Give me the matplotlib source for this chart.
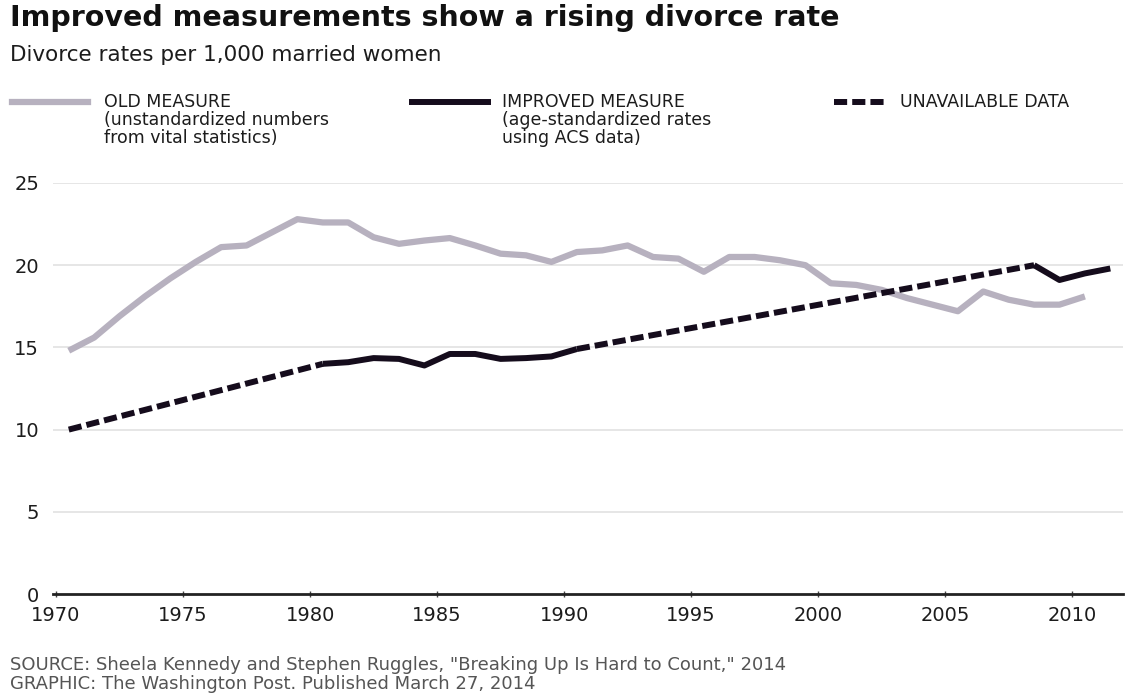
import matplotlib.pyplot as plt
from matplotlib.lines import Line2D
import numpy as np

# old measure (unstandardized, vital statistics), 1970-2010
old_years = np.arange(1970, 2011)
old_rate = [14.8, 15.6, 16.9, 18.1, 19.2, 20.2, 21.1, 21.2, 22.0, 22.8,
            22.6, 22.6, 21.7, 21.3, 21.5, 21.65, 21.2, 20.7, 20.6, 20.2,
            20.8, 20.9, 21.2, 20.5, 20.4, 19.6, 20.5, 20.5, 20.3, 20.0,
            18.9, 18.8, 18.5, 18.0, 17.6, 17.2, 18.4, 17.9, 17.6, 17.6,
            18.1]

# improved measure (age-standardized), two observed stretches
imp_years_a = np.arange(1980, 1991)
imp_rate_a = [14.0, 14.1, 14.35, 14.3, 13.9, 14.6, 14.6, 14.3, 14.35, 14.45, 14.9]
imp_years_b = np.arange(2008, 2012)
imp_rate_b = [20.0, 19.1, 19.5, 19.8]
imp_1970 = 10.0

tick_years = list(range(1970, 2011, 5))
y_ticks = [0, 5, 10, 15, 20, 25]

GRAY = '#b7b1bf'
DARK = '#150c1c'
TXT = '#1c1c1c'

W, H = 1129, 698
fig = plt.figure(figsize=(W / 100, H / 100), dpi=100)
ax = fig.add_axes([53 / W, 1 - 594 / H, (1123 - 53) / W, (594 - 183) / H])

def fx(px):
    return px / W

def fy(py):
    return 1 - py / H

# points sit in the middle of each year
off = 0.5
ax.plot(old_years + off, old_rate, color=GRAY, lw=4.5, solid_capstyle='butt', zorder=3)
dash = (0, (2.2, 0.85))
# dashed = straight bridge over the years with no improved data
ax.plot(np.array([1970, imp_years_a[0]]) + off, [imp_1970, imp_rate_a[0]],
        color=DARK, lw=4.3, linestyle=dash, zorder=4)
ax.plot(np.array([imp_years_a[-1], imp_years_b[0]]) + off, [imp_rate_a[-1], imp_rate_b[0]],
        color=DARK, lw=4.3, linestyle=dash, zorder=4)
ax.plot(imp_years_a + off, imp_rate_a, color=DARK, lw=4.3, solid_capstyle='butt', zorder=5)
ax.plot(imp_years_b + off, imp_rate_b, color=DARK, lw=4.3, solid_capstyle='butt', zorder=5)

ax.set_xlim(1969.88, 2012.0)
ax.set_ylim(0, 25)
for v in y_ticks[1:]:
    ax.axhline(v, color='#e4e4e4', lw=1.3, zorder=1)
for s in ['top', 'right', 'left']:
    ax.spines[s].set_visible(False)
ax.spines['bottom'].set_linewidth(2)
ax.spines['bottom'].set_color('#222222')
ax.spines['bottom'].set_zorder(6)

ax.set_xticks(tick_years)
ax.set_xticklabels([str(y) for y in tick_years], fontsize=14, color=TXT)
ax.tick_params(axis='x', direction='inout', length=5, width=1, color='#444444', pad=6)
ax.set_yticks(y_ticks)
ax.set_yticklabels([str(v) for v in y_ticks], fontsize=14, color=TXT)
ax.tick_params(axis='y', length=0, pad=10)

fig.text(fx(10), fy(18), 'Improved measurements show a rising divorce rate',
         fontsize=20.5, fontweight='bold', color='#111111', va='center')
fig.text(fx(10), fy(55), 'Divorce rates per 1,000 married women',
         fontsize=15.5, color=TXT, va='center')

# legend
leg_y = 102
fig.add_artist(Line2D([fx(12), fx(88)], [fy(leg_y)] * 2, color=GRAY, lw=4.5))
fig.add_artist(Line2D([fx(412), fx(488)], [fy(leg_y)] * 2, color=DARK, lw=4.3))
fig.add_artist(Line2D([fx(834), fx(886)], [fy(leg_y)] * 2, color=DARK, lw=4.3, linestyle=dash))
legend_text = [
    (104, ['OLD MEASURE', '(unstandardized numbers', 'from vital statistics)']),
    (502, ['IMPROVED MEASURE', '(age-standardized rates', 'using ACS data)']),
    (900, ['UNAVAILABLE DATA']),
]
for x0, lines in legend_text:
    for i, t in enumerate(lines):
        fig.text(fx(x0), fy(leg_y + 18 * i), t, fontsize=12.5, color=TXT, va='center')

fig.text(fx(10), fy(665), 'SOURCE: Sheela Kennedy and Stephen Ruggles, "Breaking Up Is Hard to Count," 2014',
         fontsize=13, color='#555555', va='center')
fig.text(fx(10), fy(684), 'GRAPHIC: The Washington Post. Published March 27, 2014',
         fontsize=13, color='#555555', va='center')

fig.savefig('out.png', dpi=100, facecolor='white')
